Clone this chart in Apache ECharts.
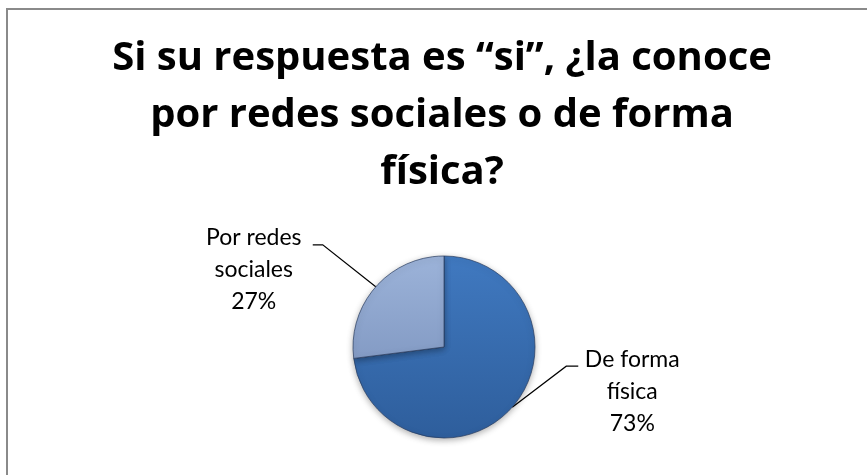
<!DOCTYPE html>
<html>
<head>
<meta charset="utf-8">
<script src="https://cdn.jsdelivr.net/npm/echarts@6/dist/echarts.min.js"></script>
<style>
  html, body { margin: 0; padding: 0; background: #fff; }
  #chart { width: 867px; height: 475px; }
</style>
</head>
<body>
<div id="chart"></div>
<script>
// datos de la encuesta
const titleText = 'Si su respuesta es “si”, ¿la conoce\npor redes sociales o de forma\nfísica?';
const categories = ['De forma física', 'Por redes sociales'];
const values = [73, 27];
const sliceColors = [
  ['#4079c0', '#2e5e9c'],
  ['#9cb3d9', '#7189b5']
];

// geometria del pastel
const cx = 444, cy = 347, r = 91;

// desplazamientos de las guias (relativos al punto del borde)
const guides = [
  { dx: 54, dy: -41, tail: 12, textDx: 54, textDy: -23 },
  { dx: -53, dy: -42, tail: -10, textDx: -59, textDy: -23 }
];

const chart = echarts.init(document.getElementById('chart'));

const data = categories.map((name, i) => ({
  name: name,
  value: values[i],
  itemStyle: {
    color: new echarts.graphic.LinearGradient(0, cy - r, 0, cy + r, [
      { offset: 0, color: sliceColors[i][0] },
      { offset: 1, color: sliceColors[i][1] }
    ], true)
  }
}));

chart.setOption({
  backgroundColor: '#fff',
  animation: false,
  title: {
    text: titleText,
    left: 442,
    top: 30,
    padding: 0,
    textAlign: 'center',
    textStyle: {
      fontFamily: 'Open Sans',
      fontWeight: 'bold',
      fontSize: 40,
      lineHeight: 57,
      color: '#000'
    }
  },
  graphic: [{
    type: 'rect',
    shape: { x: 7, y: 9, width: 900, height: 500 },
    style: { fill: 'none', stroke: '#8a8a8a', lineWidth: 2 },
    silent: true
  }],
  series: [{
    type: 'pie',
    center: [cx, cy],
    radius: r,
    startAngle: 90,
    clockwise: true,
    emphasis: { disabled: true },
    itemStyle: {
      borderColor: 'rgba(40,60,95,0.7)',
      borderWidth: 1,
      shadowBlur: 6,
      shadowColor: 'rgba(0,0,0,0.3)',
      shadowOffsetY: 2
    },
    label: {
      show: true,
      position: 'outside',
      formatter: p => p.name.replace(/ (\S+)$/, '\n$1') + '\n' + p.value + '%',
      fontFamily: 'Lato',
      fontSize: 23,
      lineHeight: 32,
      color: '#000'
    },
    labelLine: {
      show: true,
      length: 20,
      length2: 10,
      lineStyle: { color: '#000', width: 1.2 }
    },
    labelLayout: function (p) {
      const pts = p.labelLinePoints;
      if (!pts) return {};
      const g = guides[p.dataIndex];
      const s = pts[0];
      const elbow = [s[0] + g.dx, s[1] + g.dy];
      const end = [elbow[0] + g.tail, elbow[1]];
      return {
        x: end[0] + g.textDx,
        y: elbow[1] + g.textDy,
        align: 'center',
        verticalAlign: 'top',
        labelLinePoints: [s, elbow, end]
      };
    },
    data: data
  }]
});
</script>
</body>
</html>
